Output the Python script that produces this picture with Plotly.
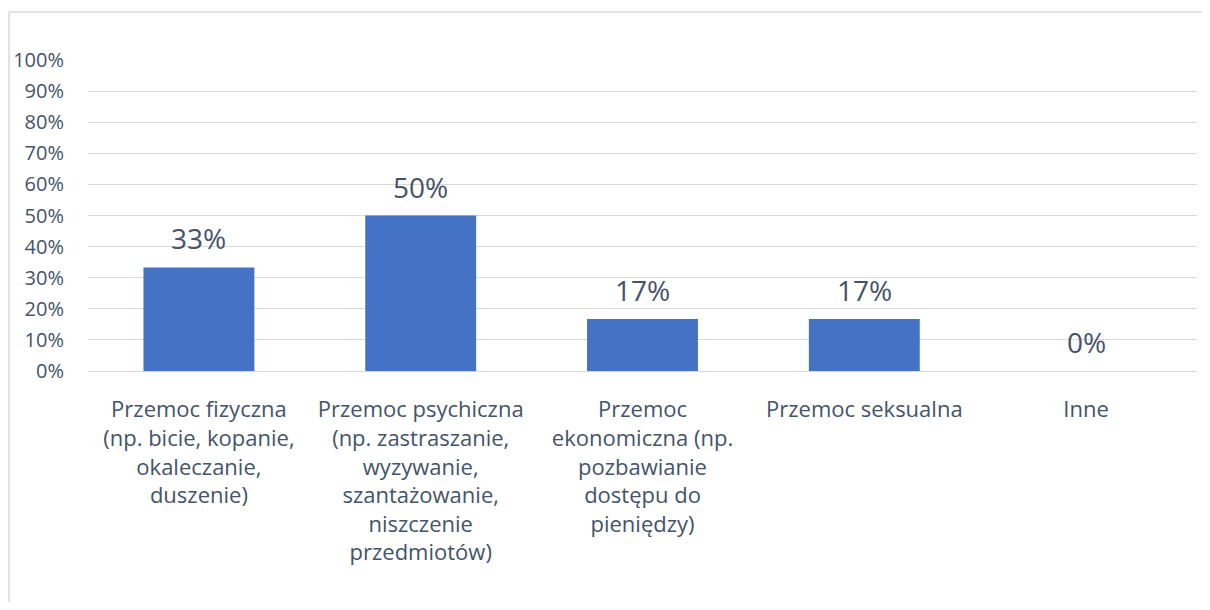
import plotly.graph_objects as go

categories = [
    "Przemoc fizyczna<br>(np. bicie, kopanie,<br>okaleczanie,<br>duszenie)",
    "Przemoc psychiczna<br>(np. zastraszanie,<br>wyzywanie,<br>szantażowanie,<br>niszczenie<br>przedmiotów)",
    "Przemoc<br>ekonomiczna (np.<br>pozbawianie<br>dostępu do<br>pieniędzy)",
    "Przemoc seksualna",
    "Inne",
]
values = [0.333, 0.50, 0.167, 0.167, 0.0]
labels = ["33%", "50%", "17%", "17%", "0%"]

text_color = "#44546A"
font_family = "Open Sans, Noto Sans, sans-serif"

fig = go.Figure()

fig.add_trace(go.Bar(
    x=categories,
    y=values,
    marker=dict(color="#4472C4", line=dict(width=0)),
    hoverinfo="skip",
))

# data labels above the bars
for cat, val, lab in zip(categories, values, labels):
    fig.add_annotation(
        x=cat, y=val, text=lab,
        showarrow=False, yanchor="bottom", yshift=8,
        font=dict(size=28, color=text_color, family=font_family),
    )

# chart border (Excel chart area): only left and top edges are visible
fig.add_shape(type="line", xref="paper", yref="paper",
              x0=-0.0712, x1=-0.0712, y0=-0.85, y1=1.154,
              line=dict(color="#D9D9D9", width=1.5))
fig.add_shape(type="line", xref="paper", yref="paper",
              x0=-0.0712, x1=1.06, y0=1.154, y1=1.154,
              line=dict(color="#D9D9D9", width=1.5))

# page body has an 8px margin; keep the figure inside the window
fig.update_layout(
    width=1194,
    height=594,
    margin=dict(l=80, r=5, t=52, b=231),
    plot_bgcolor="white",
    paper_bgcolor="white",
    bargap=0.5,
    showlegend=False,
    font=dict(family=font_family, color=text_color),
)

fig.update_yaxes(
    range=[0, 1],
    dtick=0.1,
    tickformat=".0%",
    gridcolor="#D9D9D9",
    gridwidth=1,
    zeroline=False,
    showline=False,
    ticks="",
    automargin=False,
    ticklabelstandoff=23,
    tickfont=dict(size=20, color=text_color),
    fixedrange=True,
)

fig.update_xaxes(
    showline=True,
    linecolor="#D9D9D9",
    linewidth=1,
    ticks="",
    tickangle=0,
    automargin=False,
    ticklabelstandoff=19,
    tickfont=dict(size=22, color=text_color),
    fixedrange=True,
)

fig.write_html("out.html")
